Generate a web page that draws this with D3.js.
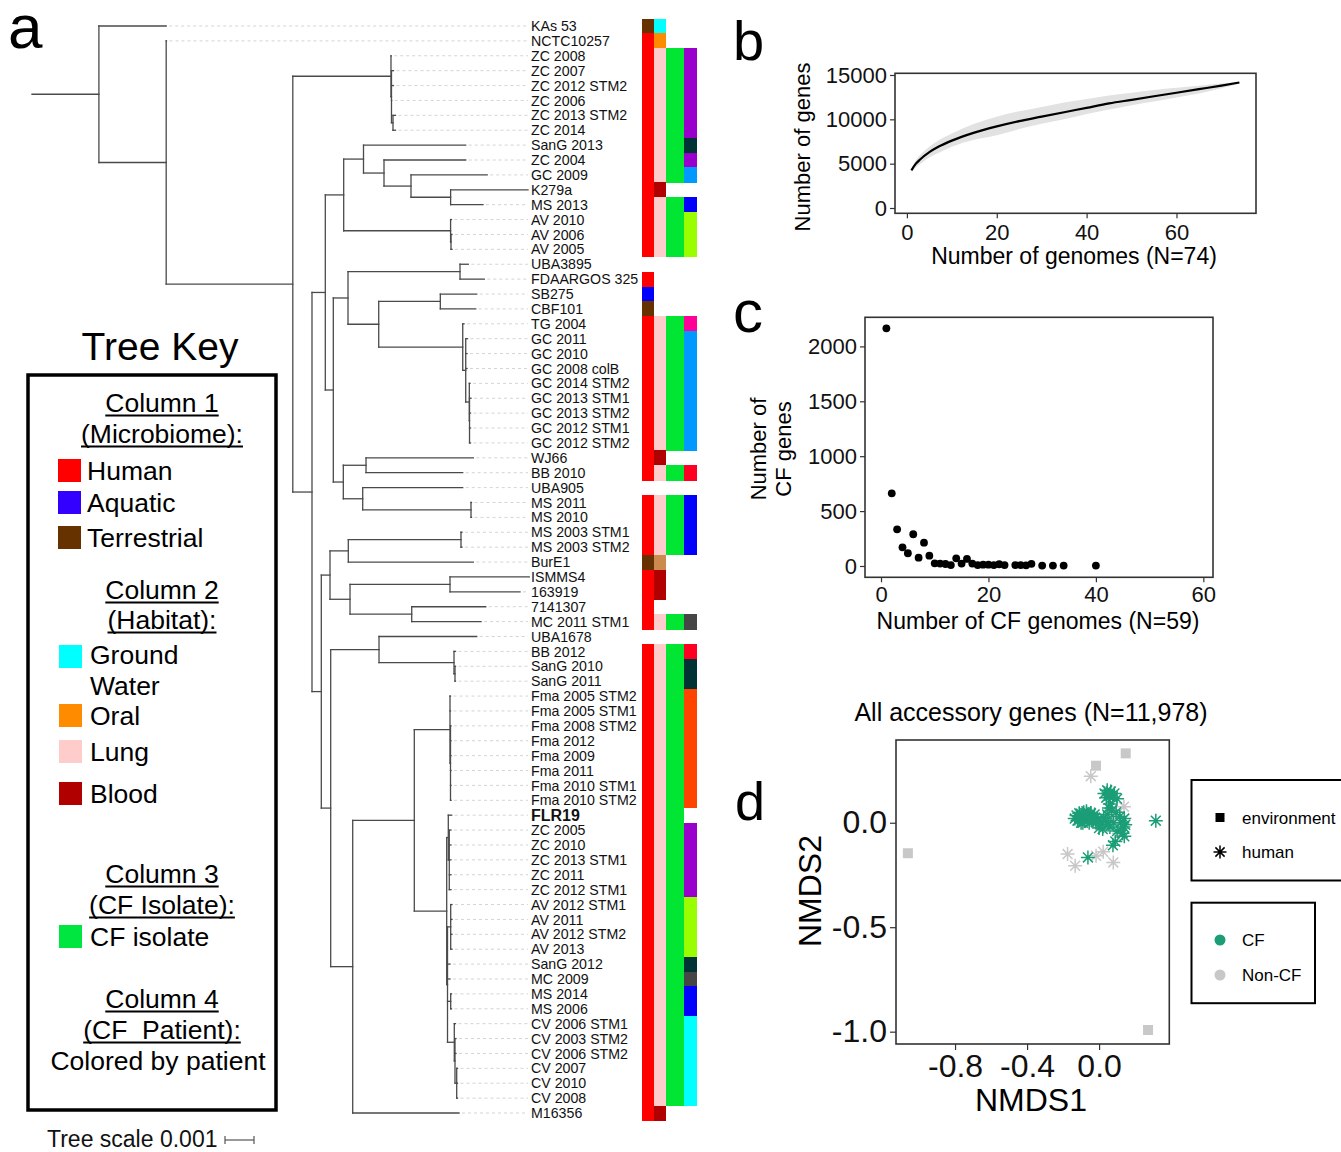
<!DOCTYPE html>
<html><head><meta charset="utf-8"><title>Figure</title>
<script src="https://cdn.jsdelivr.net/npm/d3@7/dist/d3.min.js"></script>
<style>
html,body{margin:0;padding:0;background:#fff;}
svg text{font-family:"Liberation Sans",Arial,Helvetica,sans-serif;}
</style></head><body>
<svg id="fig" width="1341" height="1152" viewBox="0 0 1341 1152"></svg>
<script>
// ===================== DATA =====================
// Tree (Newick). Branch lengths in units of 1e-4 substitutions/site.
const branchUnit = 1e-4;
const cladeD = "(ZC_2008:0.07,(ZC_2007:0.69,ZC_2012_STM2:0.69,ZC_2006:0.07,(ZC_2013_STM2:0.86,ZC_2014:0.86):0.52):0.17):33.86";
const cladeG = "((SanG_2013:35.24,(ZC_2004:28.17,(GC_2009:26.28,(K279a:26.69,MS_2013:11.17):13.66):9.31):7.07):6.83,(AV_2010:0.31,(AV_2006:0.34,AV_2005:0.34):0.14):36.86):6.34";
const cladeN = "((UBA3895:2.86,FDAARGOS_325:8.38):38.62,((SB275:12.55,CBF101:12.21):21.24,(TG_2004:0.45,(GC_2011:0.62,GC_2010:0.45,GC_2008_colB:0.45,(GC_2014_STM2:0.24,(GC_2013_STM1:0.52,GC_2013_STM2:0.34,GC_2012_STM1:0.34,GC_2012_STM2:0.34):0.07):1.24):1.03):28.97):10.59):5.07";
const cladeV = "((WJ66:37.0,BB_2010:33.34):7.83,(UBA905:34.48,(MS_2011:0.17,MS_2010:0.17):37.34):6.69):3.45";
const cladeAA = "(((MS_2003_STM1:0.34,MS_2003_STM2:0.34):38.86,BurE1:43.1):6.31,((ISMMS4:27.34,163919:24.14):34.48,(7141307:25.52,MC_2011_STM1:23.9):21.28):6.9):3.0";
const cladeAL = "(Fma_2005_STM2:0.17,Fma_2005_STM1:0.17,(Fma_2008_STM2:0.17,Fma_2012:0.17,Fma_2009:0.17,Fma_2011:0.17,Fma_2010_STM1:0.17,Fma_2010_STM2:0.17):0.17):12.31";
const cladeAM = "((FLR19:1.17,(ZC_2005:0.59,ZC_2010:0.59,ZC_2013_STM1:0.59,ZC_2011:0.59,ZC_2012_STM1:0.59):0.34):0.55,((AV_2012_STM1:0.45,AV_2011:0.45,AV_2012_STM2:0.45,AV_2013:0.45):1.1,SanG_2012:0.86,MC_2009:0.86,(MS_2014:0.28,MS_2006:0.28):1.1,(CV_2006_STM1:0.41,(CV_2003_STM2:0.34,CV_2006_STM2:0.34,(CV_2007:0.28,CV_2010:0.28,CV_2008:0.28):0.59):0.24):2.34):0.28):11.17";
const cladeAG = "((UBA1678:33.69,(BB_2012:0.52,(SanG_2010:0.17,SanG_2011:0.17):0.34):25.86):16.66,((" + cladeAL + "," + cladeAM + "):21.24,M16356:36.66):7.59):3.24";
const cladeM = "(" + cladeN + "," + cladeV + "):2.76";
const cladeF = "(" + cladeG + "," + cladeM + "):4.59";
const cladeZ = "(" + cladeAA + "," + cladeAG + "):3.21";
const cladeE = "(" + cladeF + "," + cladeZ + "):6.62";
const cladeC = "(" + cladeD + "," + cladeE + "):43.66";
const treeNewick = "(KAs_53:23.2,(NCTC10257:0.1," + cladeC + "):23.2):23.07;";
const boldLeaves = ["FLR19"];
const treeScaleValue = 0.001;

// Annotation columns, one entry per leaf (tree order, top to bottom)
const microbiome = ["T","H","H","H","H","H","H","H","H","H","H","H","H","H","H","H","","H","A","T",
  "H","H","H","H","H","H","H","H","H","H","H","","H","H","H","H","T","H","H","H",
  "H","","H","H","H","H","H","H","H","H","H","H","H","H","H","H","H","H","H","H",
  "H","H","H","H","H","H","H","H","H","H","H","H","H","H"];
const habitat = ["GW","O","L","L","L","L","L","L","L","L","L","B","L","L","L","L","","","","",
  "L","L","L","L","L","L","L","L","L","B","L","","L","L","L","L","S","B","B","",
  "L","","L","L","L","L","L","L","L","L","L","L","L","L","L","L","L","L","L","L",
  "L","L","L","L","L","L","L","L","L","L","L","L","L","B"];
const cfIsolate = [0,0,1,1,1,1,1,1,1,1,1,0,1,1,1,1,0,0,0,0,
  1,1,1,1,1,1,1,1,1,0,1,0,1,1,1,1,0,0,0,0,
  1,0,1,1,1,1,1,1,1,1,1,1,1,1,1,1,1,1,1,1,
  1,1,1,1,1,1,1,1,1,1,1,1,1,0];
const patient = ["","","ZC","ZC","ZC","ZC","ZC","ZC","SanG","ZC","GC","","MS","AV","AV","AV","","","","",
  "TG","GC","GC","GC","GC","GC","GC","GC","GC","","BB","","MS","MS","MS","MS","","","","",
  "MC","","BB","SanG","SanG","Fma","Fma","Fma","Fma","Fma","Fma","Fma","Fma","","ZC","ZC","ZC","ZC","ZC","AV",
  "AV","AV","AV","SanG","MC","MS","MS","CV","CV","CV","CV","CV","CV",""];
const microbiomeColors = {H:"#ff0000", A:"#0000ff", T:"#663300"};
const habitatColors = {GW:"#00ffff", O:"#ff8c00", L:"#ffcccc", B:"#b00000", S:"#cc8a4c"};
const cfColor = "#00e633";
const patientColors = {ZC:"#9900cc", SanG:"#003333", GC:"#0099ff", MS:"#0000ff", AV:"#99ff00",
  TG:"#ff0099", BB:"#ff0022", MC:"#464646", Fma:"#ff4400", CV:"#00ffff"};

// Tree key
const keyTitle = "Tree Key";
const keyHeaders = [["Column 1","(Microbiome):"],["Column 2","(Habitat):"],["Column 3","(CF Isolate):"],["Column 4","(CF  Patient):"]];
const keyMicrobiome = [["Human","#ff0000"],["Aquatic","#3300ff"],["Terrestrial","#663300"]];
const keyHabitat = [["Ground","#00ffff"],["Oral","#ff8c00"],["Lung","#ffcccc"],["Blood","#b00000"]];
const keyCF = [["CF isolate","#00e640"]];
const keyPatientNote = "Colored by patient";

// Panel b: pan-genome accumulation
const genomesN = [1,2,3,5,7,10,15,20,25,30,35,40,45,50,55,60,65,70,74];
const panMean  = [4250,5000,5500,6300,6900,7600,8500,9200,9800,10300,10800,11300,11800,12200,12600,13000,13400,13800,14150];
const panUpper = [4400,5400,6000,6900,7600,8400,9500,10300,10900,11400,11900,12300,12700,13000,13300,13550,13800,14050,14200];
const panLower = [4100,4600,5000,5700,6200,6900,7700,8200,8900,9500,10000,10600,11100,11600,12000,12450,12900,13500,14050];
const bYTicks = [0,5000,10000,15000];
const bXTicks = [0,20,40,60];

// Panel c: CF genes vs number of CF genomes
const cfGenomes = [1,2,3,4,5,6,7,8,9,10,11,12,13,14,15,16,17,18,19,20,21,22,23,25,26,27,28,30,32,34,40];
const cfGenes   = [2165,662,334,170,116,289,76,212,94,24,22,18,8,70,22,64,22,8,12,12,8,16,8,8,8,6,20,4,4,4,4];
const cYTicks = [0,500,1000,1500,2000];
const cXTicks = [0,20,40,60];

// Panel d: NMDS
const envNmds1 = [-1.062,-0.017,0.148,0.272];
const envNmds2 = [-0.146,0.273,0.332,-0.992];
const humNonCfNmds1 = [-0.046,0.138,-0.175,-0.133,-0.017,0.023,0.079,0.063,0.110,0.100,0.005];
const humNonCfNmds2 = [0.223,0.077,-0.150,-0.206,-0.158,-0.139,-0.190,0.013,-0.050,0.030,-0.010];
const humCfNmds1 = [-0.135,-0.125,-0.120,-0.110,-0.105,-0.100,-0.095,-0.090,-0.085,-0.080,-0.075,-0.070,-0.065,-0.060,-0.055,-0.050,-0.045,-0.040,-0.035,-0.030,-0.025,-0.020,-0.110,-0.070,-0.090,
  0.000,0.010,0.020,0.035,0.045,0.055,0.060,0.070,0.050,
  0.030,0.045,0.055,0.065,0.075,0.085,0.100,0.040,
  0.120,0.135,0.140,0.145,0.130,0.140,0.100,0.115,
  0.315,-0.062,0.077,0.090,0.095,0.080,-0.005,0.025,0.060];
const humCfNmds2 = [0.020,0.035,0.010,0.045,0.025,0.000,0.040,0.020,0.050,0.010,0.030,0.045,0.015,0.035,0.000,0.025,0.045,0.010,0.030,0.020,0.040,0.005,0.015,0.055,0.000,
  -0.025,0.000,-0.030,0.010,0.040,0.070,0.090,0.060,-0.010,
  0.140,0.155,0.130,0.150,0.120,0.140,0.115,0.120,
  0.000,-0.020,0.020,-0.010,-0.050,-0.065,-0.040,0.030,
  0.010,-0.166,-0.108,-0.090,0.050,0.000,0.010,0.025,-0.020];
const dXTicks = [-0.8,-0.4,0.0];
const dYTicks = [0.0,-0.5,-1.0];
const groupColors = {CF:"#1b9e77", NonCF:"#c8c8c8"};

// ===================== DRAW =====================
const FONT = '"Liberation Sans", Arial, Helvetica, sans-serif';
const svg = d3.select("#fig");
svg.append("rect").attr("width",1341).attr("height",1152).attr("fill","#fff");

function parseNewick(s){
  let i = 0;
  function readNode(){
    const n = {};
    if (s[i] === "("){
      n.children = []; i++;
      n.children.push(readNode());
      while (s[i] === ","){ i++; n.children.push(readNode()); }
      i++;
    }
    let name = "";
    while (i < s.length && ",():;".indexOf(s[i]) < 0) name += s[i++];
    n.name = name.replace(/_/g, " ");
    n.length = 0;
    if (s[i] === ":"){
      i++; let num = "";
      while (i < s.length && ",();".indexOf(s[i]) < 0) num += s[i++];
      n.length = parseFloat(num) * branchUnit;
    }
    return n;
  }
  return readNode();
}

// ---- Panel a: tree ----
const root = d3.hierarchy(parseNewick(treeNewick));
root.each(n => { n.dist = (n.parent ? n.parent.dist : 0) + n.data.length; });
const leaves = root.leaves();
const yBand = d3.scaleBand().domain(leaves.map(l => l.data.name)).range([18.555, 1120.445]);
const bw = yBand.bandwidth();
const xTree = d3.scaleLinear().domain([0, treeScaleValue]).range([32, 61]);
root.eachAfter(n => {
  n.yp = n.children ? (n.children[0].yp + n.children[n.children.length-1].yp) / 2
                    : yBand(n.data.name) + bw / 2;
});

const gGuide = svg.append("g").attr("stroke","#d4d4d4").attr("stroke-width",1).attr("stroke-dasharray","3,3");
leaves.forEach(l => {
  const x0 = xTree(l.dist) + 3;
  if (x0 < 527) gGuide.append("line").attr("x1",x0).attr("x2",528).attr("y1",l.yp).attr("y2",l.yp);
});

const gTree = svg.append("g").attr("stroke","#4a4a4a").attr("stroke-width",1.3).attr("fill","none").attr("stroke-linecap","square");
root.each(n => {
  const px = n.parent ? xTree(n.parent.dist) : xTree(0);
  gTree.append("line").attr("x1",px).attr("x2",xTree(n.dist)).attr("y1",n.yp).attr("y2",n.yp);
  if (n.children){
    gTree.append("line").attr("x1",xTree(n.dist)).attr("x2",xTree(n.dist))
      .attr("y1",n.children[0].yp).attr("y2",n.children[n.children.length-1].yp);
  }
});

const gLab = svg.append("g").attr("fill","#111");
leaves.forEach(l => {
  const b = boldLeaves.includes(l.data.name);
  gLab.append("text").attr("x",531).attr("y",l.yp).attr("dy","0.36em")
    .attr("font-size", b ? 16 : 14.2).attr("font-weight", b ? "bold" : "normal").text(l.data.name);
});

const colX = [[642,12],[654,12],[666,18],[684,13]];
const gCells = svg.append("g").attr("shape-rendering","crispEdges");
leaves.forEach((l,i) => {
  const y = yBand(l.data.name);
  const fills = [microbiomeColors[microbiome[i]], habitatColors[habitat[i]], cfIsolate[i] ? cfColor : null, patientColors[patient[i]]];
  fills.forEach((f,k) => {
    if (!f) return;
    gCells.append("rect").attr("x",colX[k][0]).attr("y",y).attr("width",colX[k][1]).attr("height",bw+0.6).attr("fill",f);
  });
});

// Tree scale bar
svg.append("text").attr("x",47).attr("y",1147).attr("font-size",23).attr("fill","#111").text("Tree scale " + treeScaleValue);
const sb0 = 225, sb1 = sb0 + (xTree(treeScaleValue) - xTree(0));
const gSb = svg.append("g").attr("stroke","#555").attr("stroke-width",1.2);
gSb.append("line").attr("x1",sb0).attr("x2",sb1).attr("y1",1140).attr("y2",1140);
gSb.append("line").attr("x1",sb0).attr("x2",sb0).attr("y1",1136).attr("y2",1144);
gSb.append("line").attr("x1",sb1).attr("x2",sb1).attr("y1",1136).attr("y2",1144);

// Tree key
const KFS = 26.5;
svg.append("text").attr("x",160).attr("y",360).attr("text-anchor","middle").attr("font-size",39).text(keyTitle);
svg.append("rect").attr("x",28).attr("y",375).attr("width",248).attr("height",735).attr("fill","none").attr("stroke","#000").attr("stroke-width",3.5);
function underlined(txt, x, y){
  const t = svg.append("text").attr("x",x).attr("y",y).attr("text-anchor","middle").attr("font-size",KFS)
    .style("white-space","pre").text(txt);
  const w = t.node().getComputedTextLength();
  svg.append("line").attr("x1",x-w/2).attr("x2",x+w/2).attr("y1",y+3.5).attr("y2",y+3.5).attr("stroke","#000").attr("stroke-width",1.8);
}
const headerY = [[412,443],[599,629],[883,914],[1008,1039]];
keyHeaders.forEach((h,i) => { underlined(h[0],162,headerY[i][0]); underlined(h[1],162,headerY[i][1]); });
function swatch(lbl, col, sy, ty, sx, tx){
  svg.append("rect").attr("x",sx).attr("y",sy).attr("width",23).attr("height",23).attr("fill",col);
  svg.append("text").attr("x",tx).attr("y",ty).attr("font-size",KFS).text(lbl);
}
const microSY = [459,491,526], microTY = [480,512,547];
keyMicrobiome.forEach((d,i) => swatch(d[0], d[1], microSY[i], microTY[i], 58, 87));
const habSY = [645,704,740,782], habTY = [664,725,761,803];
keyHabitat.forEach((d,i) => swatch(d[0], d[1], habSY[i], habTY[i], 59, 90));
svg.append("text").attr("x",90).attr("y",695).attr("font-size",KFS).text("Water");
keyCF.forEach(d => swatch(d[0], d[1], 925, 946, 59, 90));
svg.append("text").attr("x",158).attr("y",1070).attr("text-anchor","middle").attr("font-size",KFS).text(keyPatientNote);

// Panel letters
[["a",8,48,62],["b",733,60,56],["c",733,332,60],["d",735,820,54]].forEach(p => {
  svg.append("text").attr("x",p[1]).attr("y",p[2]).attr("font-size",p[3]).attr("fill","#000").text(p[0]);
});

function styleAxis(g, fs){
  g.select(".domain").remove();
  g.attr("font-size", fs).attr("font-family", FONT);
  g.selectAll(".tick line").attr("stroke","#333").attr("stroke-width",1.2);
  g.selectAll(".tick text").attr("fill","#111");
}

// ---- Panel b ----
const bx = d3.scaleLinear().domain([-2.65, 77.7]).range([895, 1256]);
const by = d3.scaleLinear().domain([-598, 15192]).range([213.3, 73.3]);
const bIdx = d3.range(genomesN.length);
svg.append("path").datum(bIdx)
  .attr("d", d3.area().x(i => bx(genomesN[i])).y0(i => by(panLower[i])).y1(i => by(panUpper[i])).curve(d3.curveMonotoneX))
  .attr("fill","#e2e2e2");
svg.append("path").datum(bIdx)
  .attr("d", d3.line().x(i => bx(genomesN[i])).y(i => by(panMean[i])).curve(d3.curveMonotoneX))
  .attr("fill","none").attr("stroke","#000").attr("stroke-width",2.2);
svg.append("rect").attr("x",895).attr("y",73.3).attr("width",361).attr("height",140).attr("fill","none").attr("stroke","#333").attr("stroke-width",1.6);
styleAxis(svg.append("g").attr("transform","translate(895,0)")
  .call(d3.axisLeft(by).tickValues(bYTicks).tickSize(5).tickPadding(3).tickFormat(d3.format("d"))), 22);
styleAxis(svg.append("g").attr("transform","translate(0,213.3)")
  .call(d3.axisBottom(bx).tickValues(bXTicks).tickSize(5).tickPadding(6).tickFormat(d3.format("d"))), 22);
svg.append("text").attr("transform","translate(810,147) rotate(-90)").attr("text-anchor","middle").attr("font-size",22).text("Number of genes");
svg.append("text").attr("x",1074).attr("y",264).attr("text-anchor","middle").attr("font-size",23).text("Number of genomes (N=74)");

// ---- Panel c ----
const cx = d3.scaleLinear().domain([-2.98, 61.8]).range([865, 1213]);
const cy = d3.scaleLinear().domain([-103, 2265]).range([577.3, 317.3]);
svg.append("g").selectAll("circle").data(d3.range(cfGenomes.length)).join("circle")
  .attr("cx", i => cx(cfGenomes[i])).attr("cy", i => cy(cfGenes[i])).attr("r",3.9).attr("fill","#000");
svg.append("rect").attr("x",865).attr("y",317.3).attr("width",348).attr("height",260).attr("fill","none").attr("stroke","#333").attr("stroke-width",1.6);
styleAxis(svg.append("g").attr("transform","translate(865,0)")
  .call(d3.axisLeft(cy).tickValues(cYTicks).tickSize(5).tickPadding(3).tickFormat(d3.format("d"))), 22);
styleAxis(svg.append("g").attr("transform","translate(0,577.3)")
  .call(d3.axisBottom(cx).tickValues(cXTicks).tickSize(5).tickPadding(4).tickFormat(d3.format("d"))), 22);
svg.append("text").attr("transform","translate(766,449) rotate(-90)").attr("text-anchor","middle").attr("font-size",22).text("Number of");
svg.append("text").attr("transform","translate(791,449) rotate(-90)").attr("text-anchor","middle").attr("font-size",22).text("CF genes");
svg.append("text").attr("x",1038).attr("y",629).attr("text-anchor","middle").attr("font-size",23).text("Number of CF genomes (N=59)");

// ---- Panel d ----
const dx = d3.scaleLinear().domain([-1.128, 0.39]).range([896, 1169.3]);
const dy = d3.scaleLinear().domain([-1.059, 0.396]).range([1044, 740]);
function asteriskPath(r){
  const q = r * 0.7071;
  return `M${-r},0L${r},0M0,${-r}L0,${r}M${-q},${-q}L${q},${q}M${-q},${q}L${q},${-q}`;
}
svg.append("text").attr("x",1031).attr("y",721).attr("text-anchor","middle").attr("font-size",25).text("All accessory genes (N=11,978)");
const gD = svg.append("g");
gD.selectAll("rect.env").data(d3.range(envNmds1.length)).join("rect").attr("class","env")
  .attr("x", i => dx(envNmds1[i]) - 5).attr("y", i => dy(envNmds2[i]) - 5).attr("width",10).attr("height",10).attr("fill",groupColors.NonCF);
gD.selectAll("path.hn").data(d3.range(humNonCfNmds1.length)).join("path").attr("class","hn")
  .attr("transform", i => `translate(${dx(humNonCfNmds1[i])},${dy(humNonCfNmds2[i])})`)
  .attr("d", asteriskPath(7)).attr("stroke",groupColors.NonCF).attr("stroke-width",1.5).attr("fill","none");
gD.selectAll("path.hc").data(d3.range(humCfNmds1.length)).join("path").attr("class","hc")
  .attr("transform", i => `translate(${dx(humCfNmds1[i])},${dy(humCfNmds2[i])})`)
  .attr("d", asteriskPath(7)).attr("stroke",groupColors.CF).attr("stroke-width",1.5).attr("fill","none");
svg.append("rect").attr("x",896).attr("y",740).attr("width",273.3).attr("height",304).attr("fill","none").attr("stroke","#333").attr("stroke-width",1.6);
const fmt1 = v => v.toFixed(1);
styleAxis(svg.append("g").attr("transform","translate(896,0)")
  .call(d3.axisLeft(dy).tickValues(dYTicks).tickSize(6).tickPadding(3).tickFormat(fmt1)), 32);
styleAxis(svg.append("g").attr("transform","translate(0,1044)")
  .call(d3.axisBottom(dx).tickValues(dXTicks).tickSize(6).tickPadding(4).tickFormat(fmt1)), 32);
svg.append("text").attr("x",1031).attr("y",1111).attr("text-anchor","middle").attr("font-size",32).text("NMDS1");
svg.append("text").attr("transform","translate(821,891) rotate(-90)").attr("text-anchor","middle").attr("font-size",32).text("NMDS2");

// legends
svg.append("rect").attr("x",1191.5).attr("y",780).attr("width",200).attr("height",100.5).attr("fill","#fff").attr("stroke","#000").attr("stroke-width",2);
svg.append("rect").attr("x",1215.5).attr("y",813).attr("width",9).attr("height",9).attr("fill","#000");
svg.append("path").attr("transform","translate(1220,852)").attr("d",asteriskPath(6.5)).attr("stroke","#000").attr("stroke-width",1.5);
svg.append("text").attr("x",1242).attr("y",824).attr("font-size",17).text("environment");
svg.append("text").attr("x",1242).attr("y",858).attr("font-size",17).text("human");
svg.append("rect").attr("x",1191.5).attr("y",902.7).attr("width",123.5).attr("height",100.5).attr("fill","#fff").attr("stroke","#000").attr("stroke-width",2);
svg.append("circle").attr("cx",1220).attr("cy",940).attr("r",5.5).attr("fill",groupColors.CF);
svg.append("circle").attr("cx",1220).attr("cy",975).attr("r",5.5).attr("fill",groupColors.NonCF);
svg.append("text").attr("x",1242).attr("y",946).attr("font-size",17).text("CF");
svg.append("text").attr("x",1242).attr("y",981).attr("font-size",17).text("Non-CF");
</script></body></html>
